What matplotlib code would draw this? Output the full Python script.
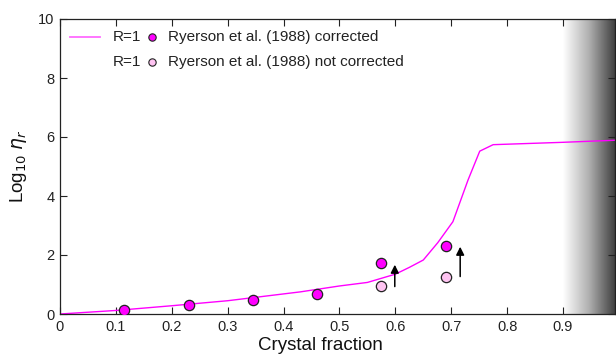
import numpy as np
import matplotlib
matplotlib.use("Agg")
import matplotlib.pyplot as plt
from matplotlib.colors import LinearSegmentedColormap

plt.rcParams['font.family'] = ['Liberation Sans', 'DejaVu Sans']

# model curve R=1
curve_x = [0.0, 0.1, 0.2, 0.3, 0.43, 0.5, 0.55, 0.6, 0.625, 0.65, 0.676, 0.703, 0.73, 0.751, 0.775, 0.9, 0.993]
curve_y = [0.0, 0.12, 0.28, 0.45, 0.75, 0.95, 1.07, 1.35, 1.58, 1.83, 2.42, 3.13, 4.54, 5.52, 5.74, 5.82, 5.89]

# Ryerson et al. (1988)
corr_x = [0.115, 0.230, 0.345, 0.460, 0.575, 0.690]
corr_y = [0.14, 0.29, 0.47, 0.67, 1.72, 2.31]
notcorr_x = [0.575, 0.690]
notcorr_y = [0.94, 1.27]

# arrows (x, y_start, y_end)
arrow_x = [0.599, 0.716]
arrow_y0 = [0.93, 1.27]
arrow_y1 = [1.67, 2.28]

xlim = (0, 0.993)
ylim = (0, 10)
xticks = [0, 0.1, 0.2, 0.3, 0.4, 0.5, 0.6, 0.7, 0.8, 0.9]
xticklabels = ['0', '0.1', '0.2', '0.3', '0.4', '0.5', '0.6', '0.7', '0.8', '0.9']
yticks = [0, 2, 4, 6, 8, 10]

fig = plt.figure(figsize=(6.16, 3.56), dpi=100)
ax = fig.add_axes([60/616, 42/356, 555/616, 295/356])

# shaded region
cmap = LinearSegmentedColormap.from_list('g', ['#ffffff', '#b0b0b0', '#404040'])
grad = np.linspace(0, 1, 256).reshape(1, -1)
ax.imshow(grad, extent=[0.9, xlim[1], ylim[0], ylim[1]], aspect='auto', cmap=cmap,
          origin='lower', zorder=0)

ax.plot(curve_x, curve_y, color='#ff00ff', lw=1.0, zorder=2)
ax.scatter(corr_x, corr_y, s=55, facecolor='#ff00ff', edgecolor='#222222', linewidth=0.9, zorder=3)
ax.scatter(notcorr_x, notcorr_y, s=55, facecolor='#ffc4f2', edgecolor='#222222', linewidth=0.9, zorder=3)
for xa, y0, y1 in zip(arrow_x, arrow_y0, arrow_y1):
    ax.annotate('', xy=(xa, y1), xytext=(xa, y0),
                arrowprops=dict(arrowstyle='-|>', color='black', lw=1.1,
                                mutation_scale=12, shrinkA=0, shrinkB=0), zorder=4)

ax.set_xlim(*xlim)
ax.set_ylim(*ylim)
ax.set_xticks(xticks)
ax.set_xticklabels(xticklabels)
ax.set_yticks(yticks)
ax.tick_params(direction='in', length=5, width=0.8, top=True, right=True,
               labelsize=10.5, colors='#222222', pad=4)
for s in ax.spines.values():
    s.set_color('#222222')
    s.set_linewidth(0.9)

ax.set_xlabel('Crystal fraction', fontsize=13.5, color='#111111')
ax.xaxis.set_label_coords(0.47, -0.079)
ax.set_ylabel(r'Log$_{10}$ $\eta_r$', fontsize=13.5, color='#111111')
ax.yaxis.set_label_coords(-0.056, 0.5 + (314 - 166) / 295 - 0.5)

# legend
ax.plot([0.018, 0.072], [9.4, 9.4], color='#ff6bff', lw=1.3, clip_on=False)
for yy, fc, lab in [(9.4, '#ff00ff', 'Ryerson et al. (1988) corrected'),
                    (8.55, '#ffc4f2', 'Ryerson et al. (1988) not corrected')]:
    ax.text(0.094, yy, 'R=1', fontsize=11, va='center', ha='left', color='#222222')
    ax.scatter([0.164], [yy], s=28, facecolor=fc, edgecolor='#222222', linewidth=0.8, zorder=3)
    ax.text(0.193, yy, lab, fontsize=11, va='center', ha='left', color='#222222')

fig.savefig('out.png', dpi=100)
